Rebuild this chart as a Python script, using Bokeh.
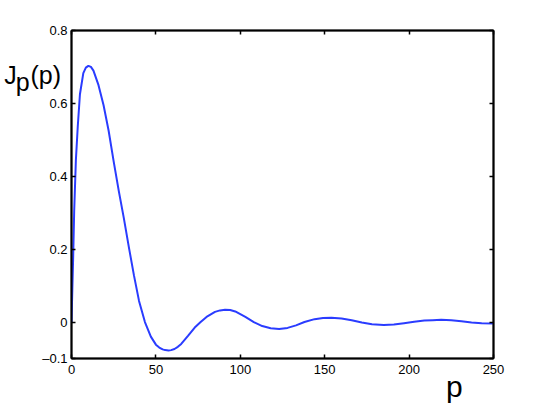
from bokeh.plotting import figure
from bokeh.models import Range1d, FixedTicker, LinearAxis
from bokeh.core.properties import value
from bokeh.embed import file_html
from bokeh.resources import INLINE

# values
p_vals = [0, 0.5, 1, 1.6, 2.6, 3.7, 5, 7, 8.5, 10, 11.5, 13, 16, 19, 22, 25, 28, 31, 34,
          37, 40, 43.5, 47, 50, 52, 54, 55.5, 57.5, 59, 61, 63, 65, 69, 73, 76.5, 80, 85,
          88, 91, 94, 97, 103, 108, 113, 118, 123, 128, 133, 138, 144, 149, 154, 160,
          166, 172, 178, 185, 191, 197, 203, 209, 214, 219, 225, 231, 237, 243, 250]
j_vals = [0.0, 0.09, 0.18, 0.307, 0.445, 0.536, 0.625, 0.683, 0.698, 0.703, 0.700, 0.69,
          0.65, 0.595, 0.525, 0.44, 0.36, 0.285, 0.205,
          0.128, 0.058, 0.0, -0.04, -0.062, -0.07, -0.075, -0.077, -0.078, -0.077, -0.074,
          -0.068, -0.06, -0.038, -0.015, 0.0, 0.014, 0.028,
          0.032, 0.034, 0.033, 0.029, 0.014, 0.0, -0.011, -0.017, -0.019, -0.016, -0.009,
          0.0, 0.008, 0.011, 0.012, 0.01,
          0.005, -0.001, -0.006, -0.008, -0.007, -0.003, 0.001, 0.004, 0.005, 0.006,
          0.005, 0.002, -0.001, -0.003, -0.004]

x_ticks = [0, 50, 100, 150, 200, 250]
y_ticks = [-0.1, 0, 0.2, 0.4, 0.6, 0.8]
y_tick_labels = ["\u20130.1", "0", "0.2", "0.4", "0.6", "0.8"]
x_title = "p"
y_title_parts = ["J", "p", "(p)"]

FONT = "Liberation Sans"

p = figure(width=545, height=403, output_backend="svg", toolbar_location=None,
           x_range=Range1d(0, 250), y_range=Range1d(-0.1, 0.8),
           min_border_left=71, min_border_right=52, min_border_top=30, min_border_bottom=45)
p.background_fill_color = "white"
p.border_fill_color = "white"
p.outline_line_color = "black"
p.outline_line_width = 1.5
p.xgrid.visible = False
p.ygrid.visible = False

def style(ax, ticks, show_labels=True, standoff=5):
    ax.ticker = FixedTicker(ticks=ticks)
    ax.minor_tick_line_color = None
    ax.major_tick_in = 4
    ax.major_tick_out = 0
    ax.major_tick_line_color = "black"
    ax.major_tick_line_width = 1.5
    ax.axis_line_color = "black"
    ax.axis_line_width = 2
    ax.major_label_text_font = FONT
    ax.major_label_text_font_size = "13px" if show_labels else "0px"
    ax.major_label_text_color = "black"
    ax.major_label_standoff = standoff if show_labels else 0

style(p.xaxis[0], x_ticks, standoff=6)
style(p.yaxis[0], y_ticks, standoff=4)
p.yaxis[0].major_label_overrides = {t: s for t, s in zip(y_ticks, y_tick_labels)}

top_ax = LinearAxis()
right_ax = LinearAxis()
style(top_ax, x_ticks, False)
style(right_ax, y_ticks, False)
top_ax.major_label_text_color = None
right_ax.major_label_text_color = None
p.add_layout(top_ax, "above")
p.add_layout(right_ax, "right")

p.line(p_vals, j_vals, line_color="#2a3cff", line_width=2)

# axis titles (text glyphs at overlay level so they are not clipped to the frame)
txt = dict(text_font=value(FONT), text_color="black",
           text_baseline="alphabetic", text_align="left", level="overlay")
p.text(x=[221.9], y=[-0.178], text=[x_title], text_font_size="30px", **txt)
p.text(x=[-39.9, -33.1, -24.3], y=[0.679, 0.659, 0.679], text=y_title_parts,
       text_font_size="25px", **txt)

open("out.html", "w").write(file_html(p, INLINE))
